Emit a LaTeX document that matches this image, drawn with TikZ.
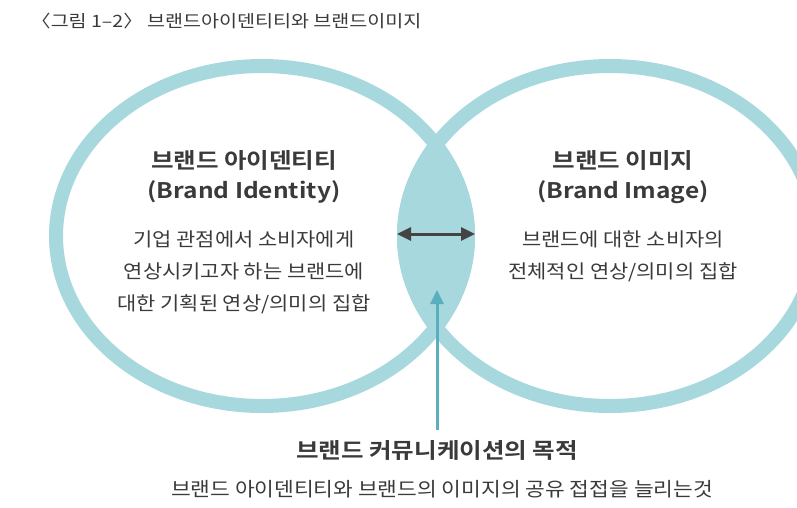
\documentclass[tikz,border=0pt]{standalone}
\usepackage{fontspec}
\setmainfont{Noto Sans CJK KR}
\newfontfamily\titlefont[FakeStretch=1.15]{Noto Sans CJK KR}
\newfontfamily\headfont[FakeStretch=1.14]{Noto Sans CJK KR Bold}
\newfontfamily\bodyfont[FakeStretch=1.10]{Noto Sans CJK KR}
\usetikzlibrary{arrows.meta}
\definecolor{ring}{HTML}{A6D8DE}
\definecolor{tealarrow}{HTML}{5AAFBE}
\definecolor{txt}{HTML}{3A3A3A}
\definecolor{darkarrow}{HTML}{444444}
\tikzset{
  ringline/.style={draw=ring, line width=14pt},
  headtxt/.style={font=\headfont\fontsize{21.5}{30}\selectfont, text=txt, align=center, inner sep=0pt},
  bodytxt/.style={font=\bodyfont\fontsize{19}{32}\selectfont, text=txt, align=center, inner sep=0pt},
}
\begin{document}
\begin{tikzpicture}[x=1pt,y=-1pt]
\useasboundingbox (0,0) rectangle (797,507);
% lens
\begin{scope}
  \clip (262,236) ellipse [x radius=213, y radius=177];
  \fill[ring] (610,236) ellipse [x radius=213, y radius=177];
\end{scope}
\draw[ringline] (262,236) ellipse [x radius=206, y radius=170];
\draw[ringline] (610,236) ellipse [x radius=206, y radius=170];
% title
\node[anchor=west, inner sep=0pt, text=txt, font=\titlefont\fontsize{17}{20}\selectfont] (title) at (31,21) {〈그림 1–2〉 브랜드아이덴티티와 브랜드이미지};
% left text
\node[headtxt] (lh) at (244,160) {브랜드 아이덴티티};
\node[headtxt] (le) at (244,192) {(Brand Identity)};
\node[bodytxt] (lb) at (244,272) {기업 관점에서 소비자에게\\연상시키고자 하는 브랜드에\\대한 기획된 연상/의미의 집합};
% right text
\node[headtxt] (rh) at (623,160) {브랜드 이미지};
\node[headtxt] (re) at (623,192) {(Brand Image)};
\node[bodytxt] (rb) at (623,256) {브랜드에 대한 소비자의\\전체적인 연상/의미의 집합};
% bottom text
\node[headtxt] (bh) at (437,450) {브랜드 커뮤니케이션의 목적};
\node[bodytxt, font=\bodyfont\fontsize{19.5}{32}\selectfont] (bb) at (442,489) {브랜드 아이덴티티와 브랜드의 이미지의 공유 접접을 늘리는것};
% arrows
\coordinate (al) at (397,234);
\coordinate (ar) at (475,234);
\draw[darkarrow, line width=3pt, {Triangle[length=14pt,width=13pt]}-{Triangle[length=14pt,width=13pt]}] (al) -- (ar);
\coordinate (vb) at (437,430);
\coordinate (vt) at (437,290);
\draw[tealarrow, line width=3pt, -{Triangle[length=14pt,width=13pt]}] (vb) -- (vt);
\end{tikzpicture}
\end{document}
